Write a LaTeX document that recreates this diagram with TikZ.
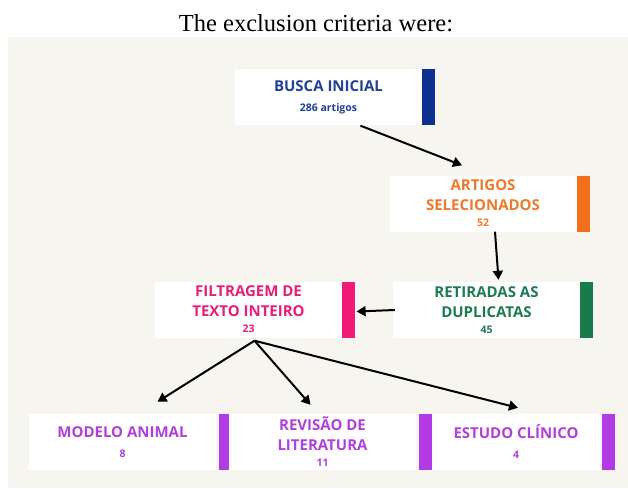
\documentclass[tikz,border=0pt]{standalone}
\usepackage{fontspec}
\setmainfont{Liberation Serif}
\newfontfamily\cardfont{Open Sans}
\usetikzlibrary{positioning,arrows.meta}
\definecolor{paper}{HTML}{F6F5EF}
\definecolor{navy}{HTML}{22409A}
\definecolor{navybar}{HTML}{0D2F8F}
\definecolor{tangerine}{HTML}{F0782A}
\definecolor{tangerinebar}{HTML}{F26F1E}
\definecolor{forest}{HTML}{1E7B54}
\definecolor{forestbar}{HTML}{1A7A4C}
\definecolor{magenta}{HTML}{E91E78}
\definecolor{magentabar}{HTML}{F01A76}
\definecolor{violet}{HTML}{B040DD}
\definecolor{violetbar}{HTML}{B23BE6}
\tikzstyle{card}=[
	rectangle,
	fill=white,
	align=center,
	inner sep=0pt,
	minimum width=187pt,
	minimum height=56pt,
	font=\cardfont\bfseries\fontsize{15}{20}\selectfont
	]
\tikzstyle{bar}=[
	rectangle,
	inner sep=0pt,
	minimum width=13pt,
	minimum height=56pt
	]
\tikzstyle{flow}=[-{Triangle[length=9pt,width=10pt]}, line width=2pt, black]
\newcommand{\tally}[1]{{\fontsize{10.5}{12}\selectfont #1}}

\begin{document}
\begin{tikzpicture}[x=1pt, y=1pt]

		\useasboundingbox (0,0) rectangle (628,488);
		\fill[paper] (8,0) rectangle (628,451);

		\node (title) [anchor=base, font=\fontsize{24.5}{28}\selectfont] at (316,456) {The exclusion criteria were:};

		% steps of the search
		\node (busca) [card, text=navy] at (328.5,390.5) {BUSCA INICIAL\\\tally{286 artigos}};
		\node (buscabar) [bar, fill=navybar, right=0pt of busca] {};

		\node (artigos) [card, text=tangerine] at (483,284.5) {ARTIGOS\\SELECIONADOS\\[-4pt]\tally{52}};
		\node (artigosbar) [bar, fill=tangerinebar, right=0pt of artigos] {};

		\node (retiradas) [card, text=forest] at (486.5,178) {RETIRADAS AS\\DUPLICATAS\\[-4pt]\tally{45}};
		\node (retiradasbar) [bar, fill=forestbar, right=0pt of retiradas] {};

		\node (filtragem) [card, text=magenta] at (248.5,178.5) {FILTRAGEM DE\\TEXTO INTEIRO\\[-4pt]\tally{23}};
		\node (filtragembar) [bar, fill=magentabar, right=0pt of filtragem] {};

		% exclusion criteria
		\node (modelo) [card, text=violet] at (122.5,46) {MODELO ANIMAL\\\tally{8}};
		\node (modelobar) [bar, fill=violetbar, right=3pt of modelo] {};

		\node (revisao) [card, text=violet] at (322.5,46) {REVISÃO DE\\LITERATURA\\[-4pt]\tally{11}};
		\node (revisaobar) [bar, fill=violetbar, right=3pt of revisao] {};

		\node (estudo) [card, text=violet, minimum width=168pt] at (516,46) {ESTUDO CLÍNICO\\\tally{4}};
		\node (estudobar) [bar, fill=violetbar, right=2pt of estudo] {};

		\coordinate (split) at ([xshift=6pt,yshift=-3pt]filtragem.south);

		\draw[flow] ([xshift=32pt]busca.south) -- ([xshift=-21pt,yshift=10pt]artigos.north);
		\draw[flow] ([xshift=12pt]artigos.south) -- ([xshift=12pt,yshift=2pt]retiradas.north);
		\draw[flow] ([xshift=2pt]retiradas.west) -- ([xshift=1pt,yshift=-2pt]filtragembar.east);
		\draw[flow] (split) -- ([xshift=35pt,yshift=12pt]modelo.north);
		\draw[flow] (split) -- ([xshift=-12pt,yshift=9pt]revisao.north);
		\draw[flow] (split) -- ([xshift=2pt,yshift=6pt]estudo.north);

\end{tikzpicture}
\end{document}
